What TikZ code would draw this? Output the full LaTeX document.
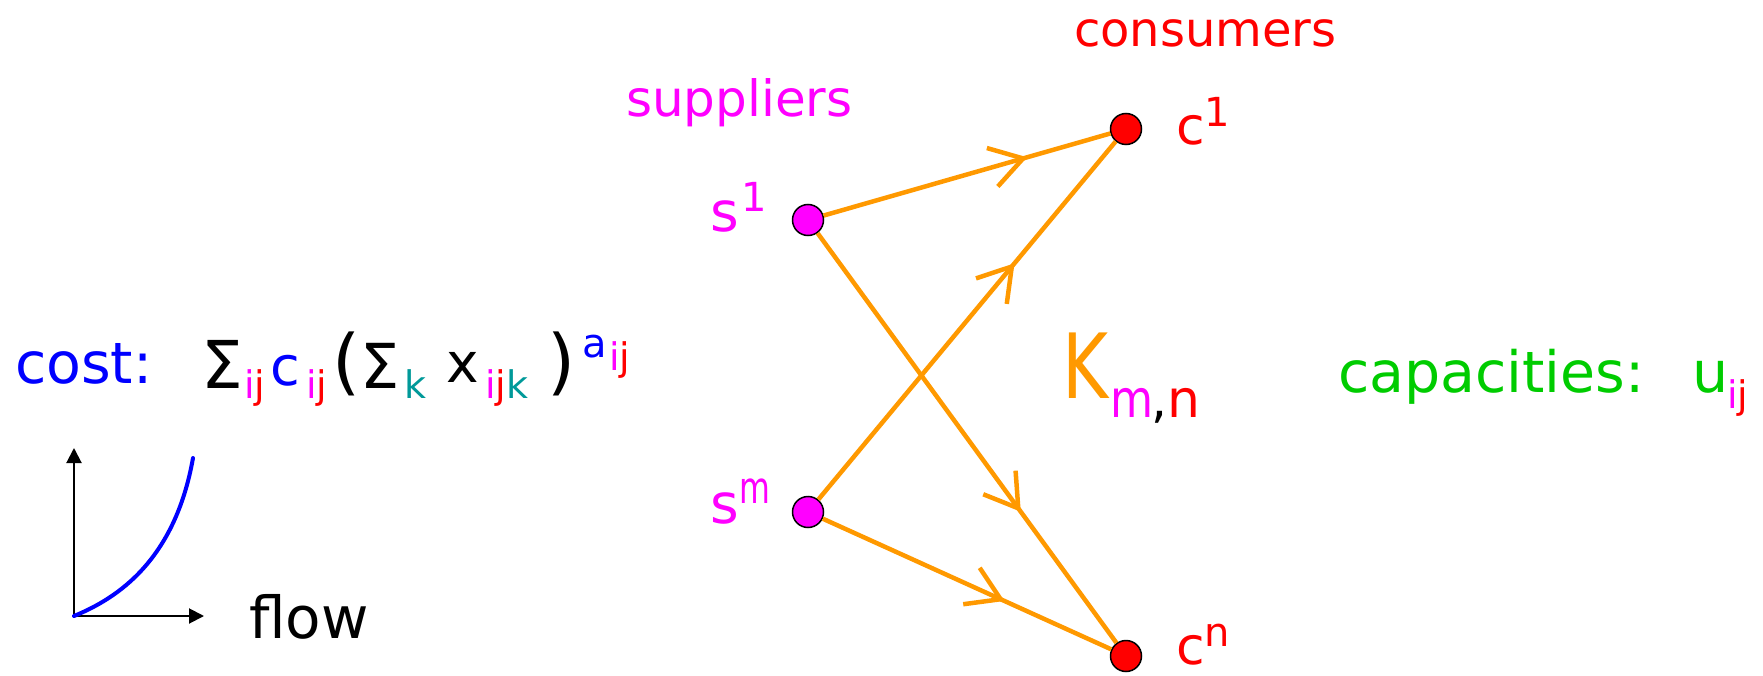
\documentclass[tikz,border=0pt]{standalone}
\usepackage{fontspec}
\usepackage{graphicx}
\setmainfont{DejaVu Sans}
\usetikzlibrary{arrows.meta,decorations.markings}
\definecolor{korange}{RGB}{255,153,0}
\definecolor{kmag}{RGB}{255,0,255}
\definecolor{kred}{RGB}{255,0,0}
\definecolor{kgreen}{RGB}{0,204,0}
\definecolor{kteal}{RGB}{0,153,153}
\definecolor{kblue}{RGB}{0,0,255}
\newcommand{\fs}[1]{\fontsize{#1}{#1}\selectfont}
\begin{document}
\begin{tikzpicture}[x=1pt,y=-1pt,
  lbl/.style={inner sep=0pt, outer sep=0pt, anchor=base west},
  vtx/.style={circle, draw=black, line width=1.5pt, minimum size=31pt, inner sep=0pt},
  flowedge/.style={draw=korange, line width=4.5pt,
    decoration={markings, mark=at position #1 with {\arrow[korange, line width=4.5pt]{Straight Barb[length=32pt,width=40pt]}}},
    postaction={decorate}},
  axis/.style={line width=2pt, -{Triangle[length=15pt,width=15pt]}}]
\useasboundingbox (0,0) rectangle (1763,676);

% ---- cost formula ----
\node[lbl, text=kblue, font=\fs{57}] (cost) at (15,383) {cost:};
\node[lbl, font=\fs{66}] (sig1) at (201,388) {Σ};
\node[lbl, font=\fs{38}] (sub1) at (244,398) {\textcolor{kmag}{i}\textcolor{kred}{j}};
\node[lbl, text=kblue, font=\fs{54}] (cc) at (270,385) {c};
\node[lbl, font=\fs{38}] (sub2) at (306,398) {\textcolor{kmag}{i}\textcolor{kred}{j}};
\node[lbl, font=\fs{72}] (lpar) at (332,386) {(};
\node[lbl, font=\fs{62}] (sig2) at (360,388) {Σ};
\node[lbl, text=kteal, font=\fs{38}] (subk) at (404,398) {k};
\node[lbl, font=\fs{55}] (xx) at (446,382) {x};
\node[lbl, font=\fs{38}] (sub3) at (485,398) {\textcolor{kmag}{i}\textcolor{kred}{j}\textcolor{kteal}{k}};
\node[lbl, font=\fs{72}] (rpar) at (547,386) {)};
\node[lbl, text=kblue, font=\fs{40}] (supa) at (582,357) {a};
\node[lbl, font=\fs{38}] (supij) at (609,370) {\textcolor{kmag}{i}\textcolor{kred}{j}};

% ---- cost curve ----
\coordinate (o) at (74,616);
\coordinate (ytop) at (74,448);
\coordinate (xend) at (204,616);
\draw[axis] (o) -- (ytop);
\draw[axis] (o) -- (xend);
\draw[kblue, line width=4pt, line cap=round] (o) .. controls (118,598) and (175,560) .. (193,458);
\node[lbl, font=\fs{58}] (flow) at (249,638) {flow};

% ---- graph ----
\node[lbl, text=kmag, font=\fs{50}] (sup) at (626,117) {suppliers};
\node[lbl, text=kred, font=\fs{48}] (con) at (1074,47) {consumers};

\node[vtx, fill=kmag] (s1) at (808,220) {};
\node[vtx, fill=kmag] (sm) at (808,512) {};
\node[vtx, fill=kred] (c1) at (1126,129) {};
\node[vtx, fill=kred] (cn) at (1126,656) {};

\draw[flowedge=0.71] (s1) -- (c1);
\draw[flowedge=0.68] (s1) -- (cn);
\draw[flowedge=0.66] (sm) -- (c1);
\draw[flowedge=0.63] (sm) -- (cn);

\node[lbl, text=kmag, font=\fs{55}] (s1l) at (710,232) {s};
\node[lbl, text=kmag, font=\fs{40}] (s1s) at (741,212) {1};
\node[lbl, text=kmag, font=\fs{55}] (sml) at (710,523) {s};
\node[lbl, text=kmag, font=\fs{44}] (sms) at (739,503) {\scalebox{0.72}[1]{m}};
\node[lbl, text=kred, font=\fs{52}] (c1l) at (1176,145) {c};
\node[lbl, text=kred, font=\fs{40}] (c1s) at (1204,127) {1};
\node[lbl, text=kred, font=\fs{52}] (cnl) at (1176,664) {c};
\node[lbl, text=kred, font=\fs{40}] (cns) at (1204,646) {n};

% ---- K_{m,n} ----
\node[lbl, text=korange, font=\fs{90}] (K) at (1062,398) {\scalebox{0.78}[1]{K}};
\node[lbl, text=kmag, font=\fs{52}] (Km) at (1110,417) {\scalebox{0.85}[1]{m}};
\node[lbl, font=\fs{50}] (Kc) at (1151,417) {,};
\node[lbl, text=kred, font=\fs{52}] (Kn) at (1167,417) {n};

% ---- capacities ----
\node[lbl, text=kgreen, font=\fs{57}] (cap) at (1338,392) {capacities:};
\node[lbl, text=kgreen, font=\fs{57}] (uu) at (1692,392) {u};
\node[lbl, font=\fs{38}] (usub) at (1727,408) {\textcolor{kmag}{i}\textcolor{kred}{j}};
\end{tikzpicture}
\end{document}
